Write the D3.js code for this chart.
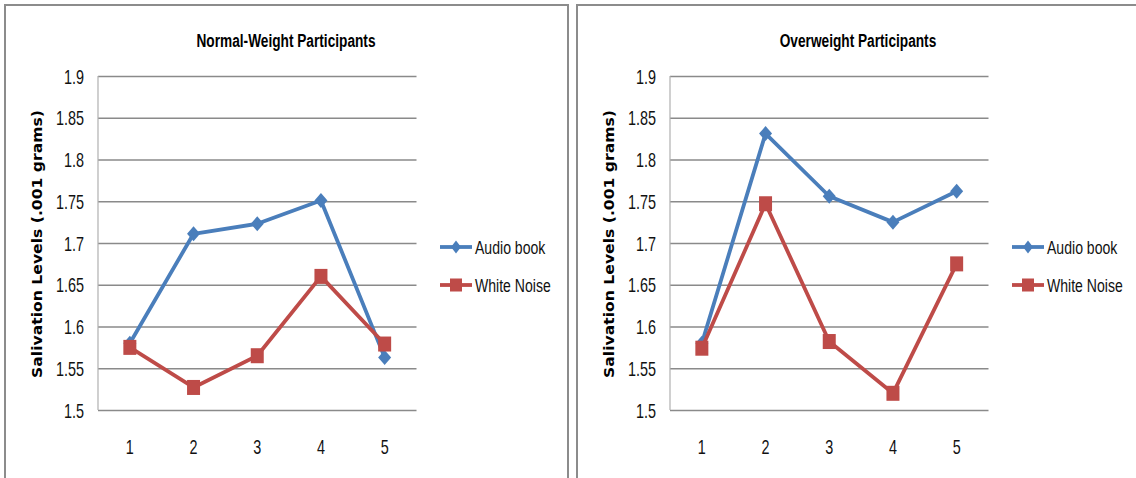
<!DOCTYPE html>
<html>
<head>
<meta charset="utf-8">
<script src="https://cdn.jsdelivr.net/npm/d3@7"></script>
<style>
  html, body { margin: 0; padding: 0; background: #fff; }
  svg { display: block; }
</style>
</head>
<body>
<svg id="chart" width="1136" height="478"></svg>
<script>
// ---- data ----
const sessions = [1, 2, 3, 4, 5];
const yTicks = [1.5, 1.55, 1.6, 1.65, 1.7, 1.75, 1.8, 1.85, 1.9];
const seriesNames = ['Audio book', 'White Noise'];
const panelTitles = ['Normal-Weight Participants', 'Overweight Participants'];
const yTitle = 'Salivation Levels (.001 grams)';

const normalAudio = [1.58, 1.711, 1.723, 1.751, 1.563];
const normalNoise = [1.575, 1.527, 1.565, 1.660, 1.579];
const overAudio = [1.58, 1.831, 1.756, 1.725, 1.762];
const overNoise = [1.574, 1.747, 1.582, 1.520, 1.675];

const colors = ['#4a7ebb', '#be4b48'];
const font = '"Liberation Sans", Arial, sans-serif';
const sx = 0.72; // text in the picture is tall and narrow

const svg = d3.select('#chart');

function drawPanel(offsetX, title, audio, noise) {
  const g = svg.append('g').attr('transform', `translate(${offsetX},0)`);

  // chart frame
  g.append('rect')
    .attr('x', 5).attr('y', 5)
    .attr('width', 563).attr('height', 500)
    .attr('fill', '#fff')
    .attr('stroke', '#8c8c8c').attr('stroke-width', 2);

  const left = 98, right = 416.5, top = 76, bottom = 410;
  const x = d3.scalePoint().domain(sessions).range([left, right]).padding(0.5);
  const y = d3.scaleLinear().domain([1.5, 1.9]).range([bottom, top]);

  // grid + labels
  const yAxis = g.append('g')
    .attr('transform', `translate(${left},0)`)
    .call(d3.axisLeft(y).tickValues(yTicks).tickSize(-(right - left))
      .tickFormat(d => String(+d.toFixed(2))));
  yAxis.select('.domain').remove();
  yAxis.selectAll('line').attr('stroke', '#8a8a8a').attr('stroke-width', 1.3);
  yAxis.selectAll('text')
    .attr('x', -14 / sx).attr('dy', '0.36em')
    .attr('transform', `scale(${sx},1)`)
    .style('font-family', font).style('font-size', '20px').attr('fill', '#111');

  // vertical axis line
  g.append('line')
    .attr('x1', left).attr('x2', left).attr('y1', top).attr('y2', bottom)
    .attr('stroke', '#b0b0b0').attr('stroke-width', 1.2);

  const xAxis = g.append('g')
    .attr('transform', `translate(0,${bottom})`)
    .call(d3.axisBottom(x).tickSize(0));
  xAxis.select('.domain').remove();
  xAxis.selectAll('text')
    .attr('y', 37).attr('dy', '0.36em')
    .attr('transform', `scale(${sx},1)`)
    .style('font-family', font).style('font-size', '20px').attr('fill', '#111');
  // keep labels centred on the scaled band position
  xAxis.selectAll('.tick').attr('transform', d => `translate(${x(d)},0)`);

  // title
  g.append('text')
    .attr('transform', `translate(286,40) scale(0.72,1)`)
    .attr('text-anchor', 'middle').attr('dy', '0.36em')
    .style('font-family', font).style('font-size', '19px').style('font-weight', 'bold')
    .text(title);

  // y axis title
  g.append('text')
    .attr('transform', `translate(37,244) rotate(-90)`)
    .attr('text-anchor', 'middle').attr('dy', '0.36em')
    .attr('textLength', 268).attr('lengthAdjust', 'spacingAndGlyphs')
    .style('font-family', '"DejaVu Sans", Verdana, sans-serif')
    .style('font-size', '14px').style('font-weight', 'bold')
    .text(yTitle);

  const line = d3.line().x((d, i) => x(sessions[i])).y(d => y(d));
  const diamond = (cx, cy, w, h) =>
    `M${cx},${cy - h / 2}L${cx + w / 2},${cy}L${cx},${cy + h / 2}L${cx - w / 2},${cy}Z`;

  // audio book
  g.append('path').datum(audio)
    .attr('d', line).attr('fill', 'none')
    .attr('stroke', colors[0]).attr('stroke-width', 3.8).attr('stroke-linejoin', 'round');
  g.selectAll('.dia').data(audio).join('path')
    .attr('d', (d, i) => diamond(x(sessions[i]), y(d), 13, 15))
    .attr('fill', colors[0]);

  // white noise
  g.append('path').datum(noise)
    .attr('d', line).attr('fill', 'none')
    .attr('stroke', colors[1]).attr('stroke-width', 3.8).attr('stroke-linejoin', 'round');
  g.selectAll('.sq').data(noise).join('rect')
    .attr('x', (d, i) => x(sessions[i]) - 6.5)
    .attr('y', d => y(d) - 7.5)
    .attr('width', 13).attr('height', 15)
    .attr('fill', colors[1]);

  // legend
  const legY = [247, 285];
  seriesNames.forEach((name, i) => {
    const lg = g.append('g').attr('transform', `translate(440,${legY[i]})`);
    lg.append('line').attr('x1', 0).attr('x2', 32).attr('y1', 0).attr('y2', 0)
      .attr('stroke', colors[i]).attr('stroke-width', 3.8);
    if (i === 0) {
      lg.append('path').attr('d', diamond(16, 0, 10, 13)).attr('fill', colors[i]);
    } else {
      lg.append('rect').attr('x', 10).attr('y', -6.5).attr('width', 12).attr('height', 13)
        .attr('fill', colors[i]);
    }
    lg.append('text')
      .attr('transform', `translate(35,0) scale(0.76,1)`)
      .attr('dy', '0.36em')
      .style('font-family', font).style('font-size', '18.5px').attr('fill', '#111')
      .text(name);
  });
}

drawPanel(0, panelTitles[0], normalAudio, normalNoise);
drawPanel(572, panelTitles[1], overAudio, overNoise);
</script>
</body>
</html>
